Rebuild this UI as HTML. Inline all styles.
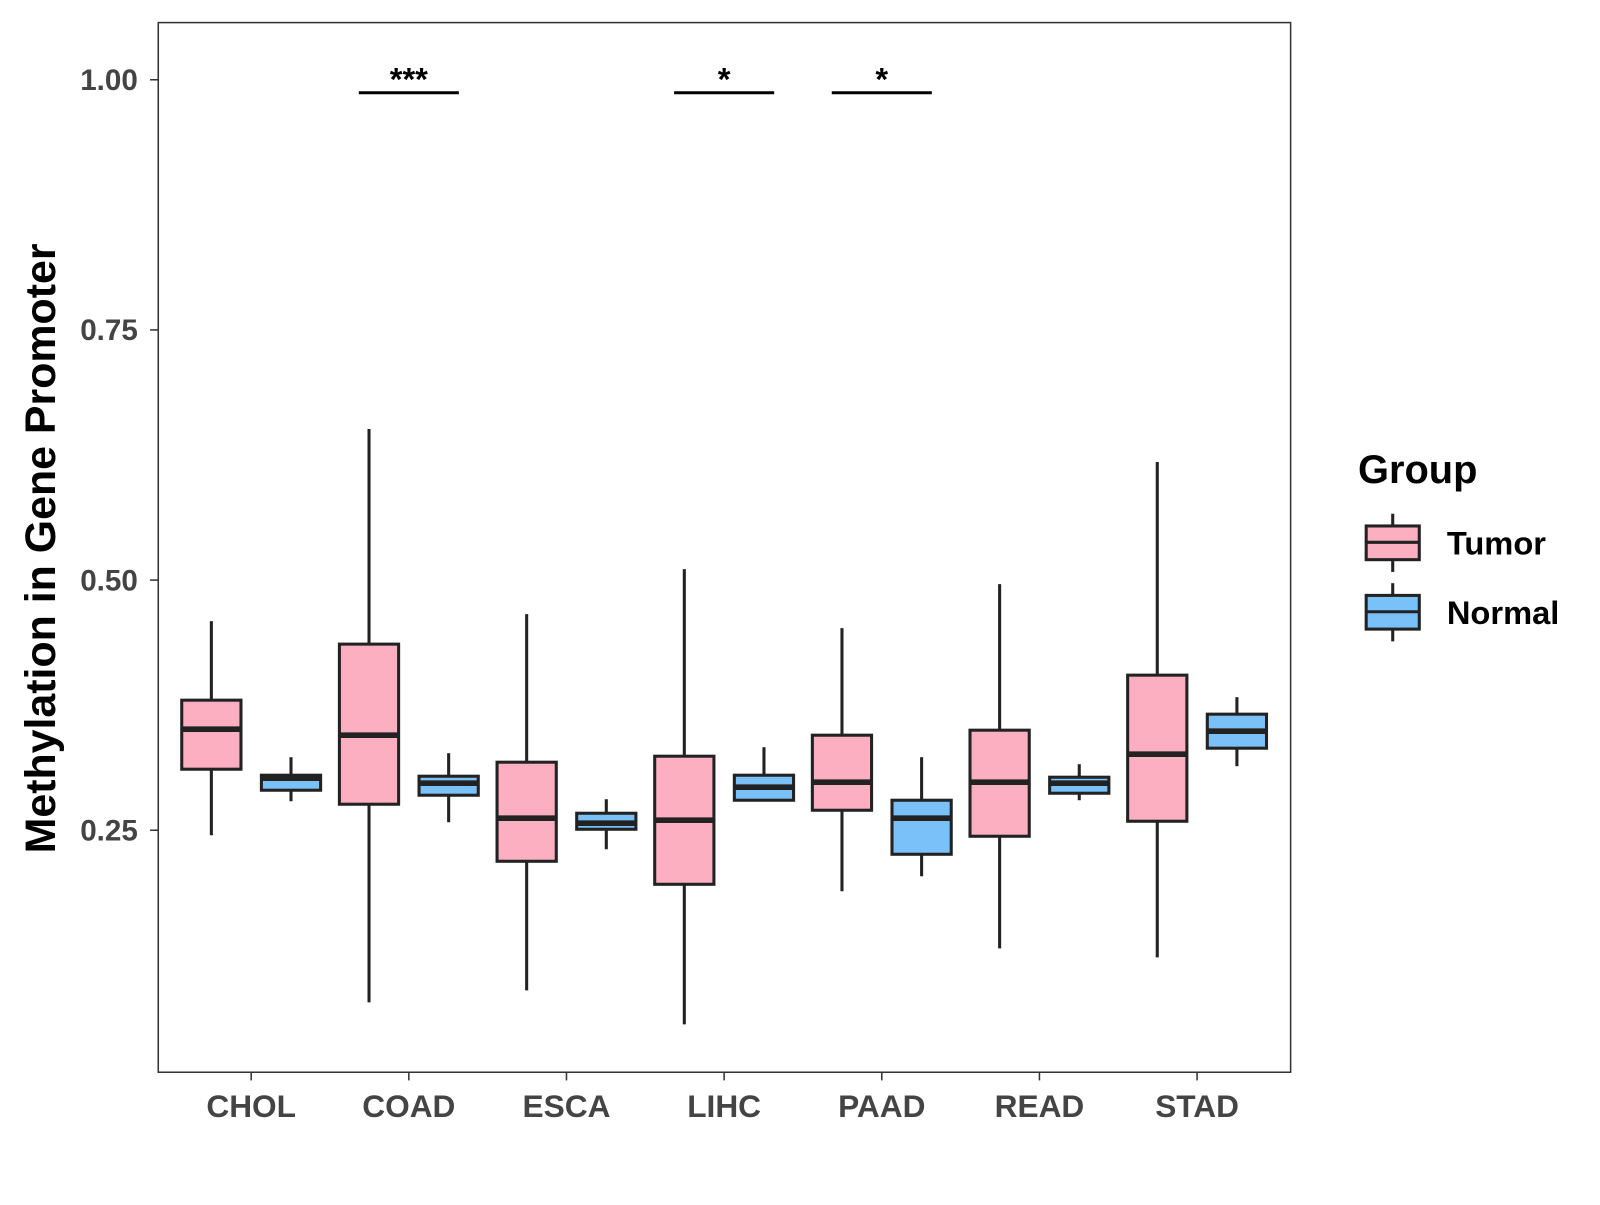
<!DOCTYPE html>
<html><head><meta charset="utf-8"><style>
html,body{margin:0;padding:0;background:#fff;}
svg text{font-family:"Liberation Sans",Arial,sans-serif;font-weight:bold;}
</style></head><body>
<svg id="chart" width="1600" height="1200" viewBox="0 0 1567 1175" xmlns="http://www.w3.org/2000/svg">
<rect x="0" y="0" width="1600" height="1200" fill="#fff"/>
<rect x="155" y="22" width="1109" height="1028" fill="none" stroke="#333" stroke-width="1.5"/>
<g id="yaxis"></g>
<g id="xaxis"></g>
<g id="boxes"></g>
<g id="sig"></g>
<text transform="translate(54,537) rotate(-90)" text-anchor="middle" font-size="42" fill="#000">Methylation in Gene Promoter</text>
<g>
<text x="1330" y="473" font-size="39" fill="#000">Group</text>
<g>
<line x1="1364" y1="503" x2="1364" y2="560" stroke="#222" stroke-width="3"/>
<rect x="1338" y="515" width="52" height="33" fill="#FBAFC1" stroke="#222" stroke-width="3"/>
<line x1="1338" y1="531" x2="1390" y2="531" stroke="#222" stroke-width="3"/>
<text x="1417" y="543" font-size="32" fill="#000">Tumor</text></g>
<g>
<line x1="1364" y1="571" x2="1364" y2="628" stroke="#222" stroke-width="3"/>
<rect x="1338" y="583" width="52" height="33" fill="#79C1F8" stroke="#222" stroke-width="3"/>
<line x1="1338" y1="599" x2="1390" y2="599" stroke="#222" stroke-width="3"/>
<text x="1417" y="611" font-size="32" fill="#000">Normal</text></g>
</g>
</svg>
<script>
const categories=["CHOL","COAD","ESCA","LIHC","PAAD","READ","STAD"];
const tumorMin=[0.245,0.078,0.090,0.056,0.189,0.132,0.123];
const tumorQ1=[0.311,0.276,0.219,0.196,0.270,0.244,0.259];
const tumorMed=[0.351,0.345,0.262,0.260,0.298,0.298,0.326];
const tumorQ3=[0.380,0.436,0.318,0.324,0.345,0.350,0.405];
const tumorMax=[0.459,0.651,0.466,0.511,0.452,0.496,0.618];
const normalMin=[0.279,0.258,0.231,0.287,0.204,0.280,0.314];
const normalQ1=[0.290,0.285,0.251,0.280,0.226,0.287,0.332];
const normalMed=[0.302,0.297,0.257,0.293,0.262,0.297,0.349];
const normalQ3=[0.305,0.304,0.267,0.305,0.280,0.303,0.366];
const normalMax=[0.323,0.327,0.281,0.333,0.323,0.316,0.383];
const yTicks=[0.25,0.50,0.75,1.00];
const yTickLabels=["0.25","0.50","0.75","1.00"];
const sigCats=["COAD","LIHC","PAAD"];
const sigLabels=["***","*","*"];
const sigLevel=[0.987,0.987,0.987];

const NS="http://www.w3.org/2000/svg";
function y(v){return 78+(1-v)*980;}
function x(i){return 246+i*154.4;}
function mk(tag,attrs,parent){const e=document.createElementNS(NS,tag);for(const k in attrs)e.setAttribute(k,attrs[k]);parent.appendChild(e);return e;}
const ya=document.getElementById('yaxis'),xa=document.getElementById('xaxis'),bx=document.getElementById('boxes'),sg=document.getElementById('sig');
yTicks.forEach((t,i)=>{
  const l=mk('line',{x1:147,x2:155,y1:y(t),y2:y(t),stroke:'#333','stroke-width':1.5},ya);
  
  
  const tx=mk('text',{x:135,y:y(t)+10,'text-anchor':'end','font-size':29,fill:'#444'},ya);
  tx.textContent=yTickLabels[i];
  
  
});
categories.forEach((c,i)=>{
  const l=mk('line',{x1:x(i),x2:x(i),y1:1050,y2:1058,stroke:'#333','stroke-width':1.5},xa);
  
  
  const tx=mk('text',{x:x(i),y:1094,'text-anchor':'middle','font-size':31,fill:'#444'},xa);
  tx.textContent=c;
  
  
});
function box(cx,mn,q1,md,q3,mx,fill,name){
  const g=mk('g',{},bx);
  
  
  mk('line',{x1:cx,x2:cx,y1:y(mx),y2:y(q3),stroke:'#222','stroke-width':3},g);
  mk('line',{x1:cx,x2:cx,y1:y(q1),y2:y(mn),stroke:'#222','stroke-width':3},g);
  mk('rect',{x:cx-29,y:y(q3),width:58,height:y(q1)-y(q3),fill:fill,stroke:'#222','stroke-width':3},g);
  mk('line',{x1:cx-29,x2:cx+29,y1:y(md),y2:y(md),stroke:'#222','stroke-width':5.5},g);
}
categories.forEach((c,i)=>{
  box(x(i)-39,tumorMin[i],tumorQ1[i],tumorMed[i],tumorQ3[i],tumorMax[i],'#FBAFC1','box-tumor-'+c.toLowerCase());
  box(x(i)+39,normalMin[i],normalQ1[i],normalMed[i],normalQ3[i],normalMax[i],'#79C1F8','box-normal-'+c.toLowerCase());
});
sigCats.forEach((c,k)=>{
  const i=categories.indexOf(c);
  const l=mk('line',{x1:x(i)-49,x2:x(i)+49,y1:y(sigLevel[k]),y2:y(sigLevel[k]),stroke:'#000','stroke-width':3},sg);
  
  
  const t=mk('text',{x:x(i),y:y(sigLevel[k])-2,'text-anchor':'middle','font-size':32,fill:'#000'},sg);
  t.textContent=sigLabels[k];
  
  
});
</script>
</body></html>
